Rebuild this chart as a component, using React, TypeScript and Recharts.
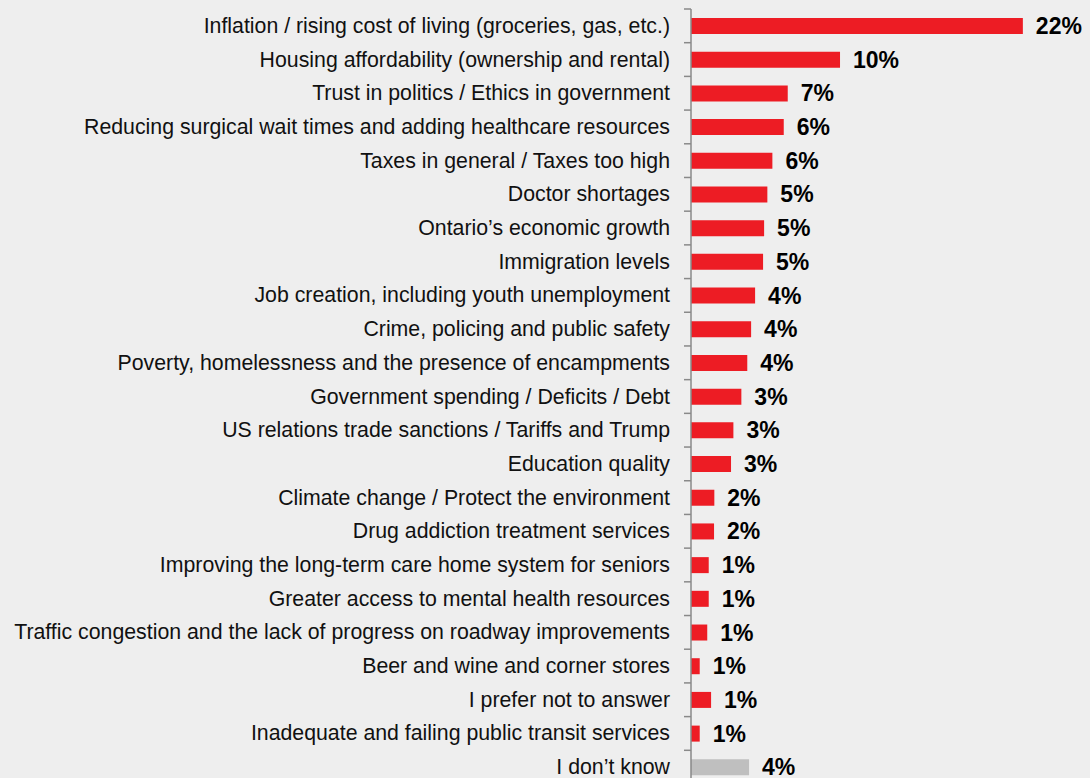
import React from "react";
import { BarChart, Bar, XAxis, YAxis, Cell, LabelList } from "recharts";

const categories = [
  "Inflation / rising cost of living (groceries, gas, etc.)",
  "Housing affordability (ownership and rental)",
  "Trust in politics / Ethics in government",
  "Reducing surgical wait times and adding healthcare resources",
  "Taxes in general / Taxes too high",
  "Doctor shortages",
  "Ontario’s economic growth",
  "Immigration levels",
  "Job creation, including youth unemployment",
  "Crime, policing and public safety",
  "Poverty, homelessness and the presence of encampments",
  "Government spending / Deficits / Debt",
  "US relations trade sanctions / Tariffs and Trump",
  "Education quality",
  "Climate change / Protect the environment",
  "Drug addiction treatment services",
  "Improving the long-term care home system for seniors",
  "Greater access to mental health resources",
  "Traffic congestion and the lack of progress on roadway improvements",
  "Beer and wine and corner stores",
  "I prefer not to answer",
  "Inadequate and failing public transit services",
  "I don’t know",
];

const values = [
  22.47, 10.09, 6.55, 6.28, 5.51, 5.17, 4.95, 4.88, 4.34, 4.07, 3.81, 3.41,
  2.87, 2.71, 1.58, 1.56, 1.2, 1.2, 1.1, 0.59, 1.36, 0.59, 3.93,
];

const labels = [
  "22%", "10%", "7%", "6%", "6%", "5%", "5%", "5%", "4%", "4%", "4%", "3%",
  "3%", "3%", "2%", "2%", "1%", "1%", "1%", "1%", "1%", "1%", "4%",
];

const data = categories.map((c, i) => ({ name: c, value: values[i], label: labels[i] }));

const W = 1090;
const H = 800;
const M = { top: 9, right: 15, bottom: 16, left: 0 };
const AXIS_W = 691;
const BAND = (H - M.top - M.bottom) / categories.length;

const RED = "#ED1C24";
const GREY = "#BFBFBF";
const FONT = "'Liberation Sans', Arial, sans-serif";

const Tick = (props: any) => {
  const { y, payload, index } = props;
  const ax = AXIS_W;
  return (
    <g>
      <line x1={ax - 7} x2={ax} y1={y - BAND / 2} y2={y - BAND / 2} stroke="#898989" strokeWidth={1.5} />
      {index === categories.length - 1 && (
        <line x1={ax - 7} x2={ax} y1={y + BAND / 2} y2={y + BAND / 2} stroke="#898989" strokeWidth={1.5} />
      )}
      <text x={ax - 21} y={y} dy={7} textAnchor="end" fontSize={21.3} fill="#111" fontFamily={FONT}>
        {payload.value}
      </text>
    </g>
  );
};

const ValueLabel = (props: any) => {
  const { x, y, width, height, value } = props;
  return (
    <text
      x={x + width + 13}
      y={y + height / 2}
      dy={8}
      textAnchor="start"
      fontSize={23}
      fontWeight="bold"
      fill="#000"
      fontFamily={FONT}
    >
      {value}
    </text>
  );
};

export default function App() {
  return (
    <div style={{ position: "absolute", left: 0, top: 0, width: 1090, height: 778, background: "#EEEEEE", overflow: "hidden" }}>
      <BarChart width={W} height={H} data={data} layout="vertical" margin={M} barSize={16}>
        <XAxis type="number" domain={[0, 26]} hide />
        <YAxis
          type="category"
          dataKey="name"
          width={AXIS_W}
          interval={0}
          tickLine={false}
          axisLine={{ stroke: "#898989", strokeWidth: 1.5 }}
          tick={<Tick />}
        />
        <Bar dataKey="value" isAnimationActive={false}>
          {data.map((d, i) => (
            <Cell key={i} fill={i === data.length - 1 ? GREY : RED} />
          ))}
          <LabelList dataKey="label" content={<ValueLabel />} />
        </Bar>
      </BarChart>
    </div>
  );
}
